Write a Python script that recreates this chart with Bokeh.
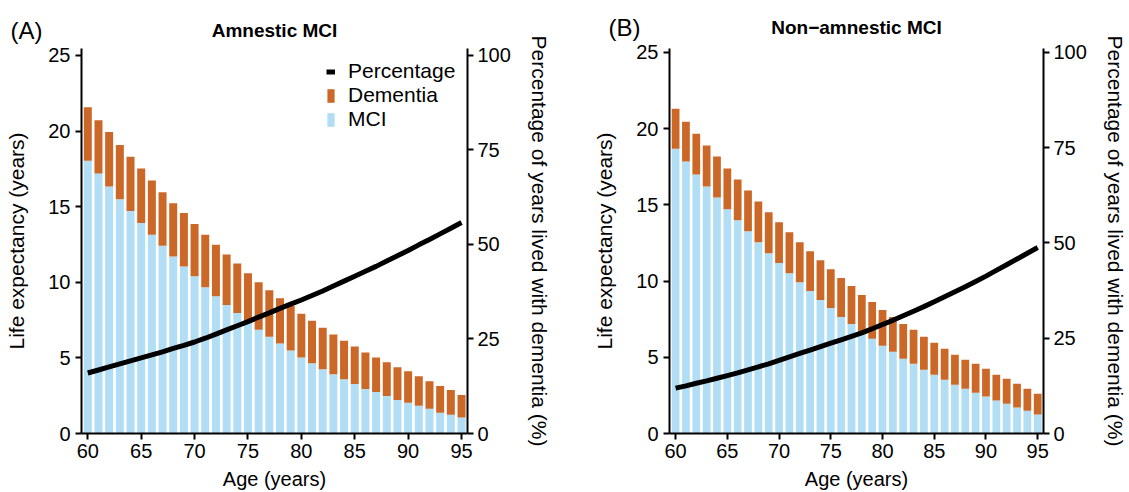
from bokeh.plotting import figure
from bokeh.models import Range1d, LinearAxis, Legend, LegendItem, Label, ColumnDataSource, FixedTicker
from bokeh.layouts import row
from bokeh.embed import file_html
from bokeh.resources import INLINE

AGES = list(range(60, 96))

A_MCI = [18.04, 17.19, 16.34, 15.49, 14.71, 13.92, 13.14, 12.42, 11.70, 11.05,
         10.39, 9.67, 9.08, 8.50, 7.97, 7.45, 6.86, 6.40, 5.95, 5.49,
         5.03, 4.64, 4.25, 3.92, 3.59, 3.27, 2.94, 2.75, 2.48, 2.22,
         2.03, 1.83, 1.63, 1.37, 1.24, 1.05]
A_DEM = [3.53, 3.53, 3.59, 3.59, 3.59, 3.60, 3.59, 3.53, 3.53, 3.53,
         3.47, 3.47, 3.40, 3.33, 3.27, 3.14, 3.14, 3.08, 3.00, 2.94,
         2.88, 2.81, 2.74, 2.62, 2.55, 2.48, 2.42, 2.28, 2.23, 2.16,
         2.09, 1.96, 1.83, 1.77, 1.64, 1.50]
A_PCT = [16.0, 16.8, 17.6, 18.4, 19.2, 20.0, 20.8, 21.6, 22.5, 23.3,
         24.2, 25.2, 26.3, 27.4, 28.5, 29.6, 30.8, 31.9, 33.1, 34.2,
         35.3, 36.5, 37.7, 39.0, 40.3, 41.6, 42.9, 44.2, 45.6, 47.0,
         48.4, 49.9, 51.3, 52.8, 54.3, 55.8]

B_MCI = [18.69, 17.84, 16.99, 16.21, 15.49, 14.71, 13.99, 13.27, 12.55, 11.83,
         11.18, 10.52, 9.93, 9.35, 8.76, 8.24, 7.65, 7.19, 6.67, 6.21,
         5.75, 5.36, 4.90, 4.58, 4.18, 3.86, 3.53, 3.20, 2.94, 2.68,
         2.42, 2.16, 1.96, 1.70, 1.50, 1.24]
B_DEM = [2.62, 2.62, 2.68, 2.68, 2.68, 2.68, 2.68, 2.68, 2.68, 2.68,
         2.68, 2.68, 2.62, 2.61, 2.61, 2.54, 2.55, 2.48, 2.41, 2.42,
         2.35, 2.29, 2.29, 2.22, 2.16, 2.09, 2.03, 1.96, 1.90, 1.90,
         1.83, 1.70, 1.63, 1.57, 1.44, 1.37]
B_PCT = [11.9, 12.5, 13.2, 13.8, 14.5, 15.2, 15.9, 16.7, 17.5, 18.3,
         19.2, 20.1, 21.0, 21.9, 22.8, 23.7, 24.6, 25.5, 26.4, 27.5,
         28.6, 29.7, 30.9, 32.1, 33.3, 34.6, 35.9, 37.2, 38.5, 39.9,
         41.3, 42.8, 44.3, 45.8, 47.3, 48.8]

X_TICKS = [60, 65, 70, 75, 80, 85, 90, 95]
Y_TICKS = [0, 5, 10, 15, 20, 25]
P_TICKS = [0, 25, 50, 75, 100]

BLUE = "#B1DEF4"
ORANGE = "#CB6828"
FONT = "Liberation Sans"
H = 492
BOTTOM = 57
PX_PER_UNIT = 15.32
X0, X1 = 59.41, 95.56


def style_axis(ax, label_size="21px"):
    ax.axis_line_width = 2
    ax.axis_line_color = "black"
    ax.major_tick_line_width = 2
    ax.major_tick_line_color = "black"
    ax.major_tick_out = 6
    ax.major_tick_in = 0
    ax.minor_tick_line_color = None
    ax.major_label_text_font = FONT
    ax.major_label_text_font_size = "20px"
    ax.major_label_text_color = "black"
    ax.axis_label_text_font = FONT
    ax.axis_label_text_font_size = label_size
    ax.axis_label_text_font_style = "normal"
    ax.axis_label_text_color = "black"


def panel(mci, dem, pct, title, tag, width, border_left, border_right, top, tag_side, with_legend):
    fh = H - top - BOTTOM
    y1 = fh / PX_PER_UNIT
    p = figure(width=width, height=H, x_range=Range1d(X0, X1), y_range=Range1d(0, y1),
               output_backend="svg", toolbar_location=None,
               min_border_left=border_left, min_border_right=border_right,
               min_border_top=top, min_border_bottom=BOTTOM)
    p.extra_y_ranges = {"pct": Range1d(0, y1 * 4)}
    src = ColumnDataSource(dict(age=AGES, mci=mci, dem=dem, pct=pct))
    bars = p.vbar_stack(["mci", "dem"], x="age", width=0.75, source=src,
                        color=[BLUE, ORANGE], line_color=None)
    ln = p.line("age", "pct", source=src, y_range_name="pct", line_width=5, line_color="black")

    p.outline_line_color = None
    p.xgrid.grid_line_color = None
    p.ygrid.grid_line_color = None

    p.xaxis.ticker = FixedTicker(ticks=X_TICKS)
    p.yaxis.ticker = FixedTicker(ticks=Y_TICKS)
    p.xaxis.axis_label = "Age (years)"
    p.yaxis.axis_label = "Life expectancy (years)"
    style_axis(p.xaxis[0], "20px")
    style_axis(p.yaxis[0])
    p.xaxis.major_label_standoff = 4
    p.xaxis.axis_label_standoff = 7
    p.yaxis.axis_label_standoff = 17

    rax = LinearAxis(y_range_name="pct", ticker=FixedTicker(ticks=P_TICKS),
                     axis_label="Percentage of years lived with dementia (%)")
    style_axis(rax)
    rax.major_label_standoff = 4
    rax.axis_label_standoff = 14
    p.add_layout(rax, "right")

    fw = width - border_left - border_right
    xpx = (X1 - X0) / fw
    ypx = 1.0 / PX_PER_UNIT
    ty = y1 + (top - 27) * ypx
    ttl = Label(x=(X0 + X1) / 2, y=ty, text=title,
                text_font=FONT, text_font_size="19px", text_font_style="bold",
                text_baseline="middle", text_align="center", text_color="black")
    p.add_layout(ttl, "above")
    lab = Label(x=X0 - (border_left - 10) * xpx, y=ty, text=tag,
                text_font=FONT, text_font_size="24px", text_baseline="middle",
                text_align="left", text_color="black")
    p.add_layout(lab, tag_side)

    if with_legend:
        leg = Legend(items=[LegendItem(label="Percentage", renderers=[ln]),
                            LegendItem(label="Dementia", renderers=[bars[1]]),
                            LegendItem(label="MCI", renderers=[bars[0]])],
                     location=(245, 302))
        leg.border_line_color = None
        leg.background_fill_alpha = 0
        leg.padding = 0
        leg.margin = 0
        leg.spacing = -1
        leg.glyph_width = 9
        leg.glyph_height = 17
        leg.label_height = 18
        leg.label_standoff = 13
        leg.label_text_font = FONT
        leg.label_text_font_size = "21px"
        leg.label_text_color = "black"
        p.add_layout(leg)
    return p


pA = panel(A_MCI, A_DEM, A_PCT, "Amnestic MCI", "(A)", 590, 81, 123, 45, "right", True)
pB = panel(B_MCI, B_DEM, B_PCT, "Non\u2212amnestic MCI", "(B)", 539, 73, 80, 48, "above", False)

layout = row(pA, pB)
open("out.html", "w").write(file_html(layout, INLINE))
